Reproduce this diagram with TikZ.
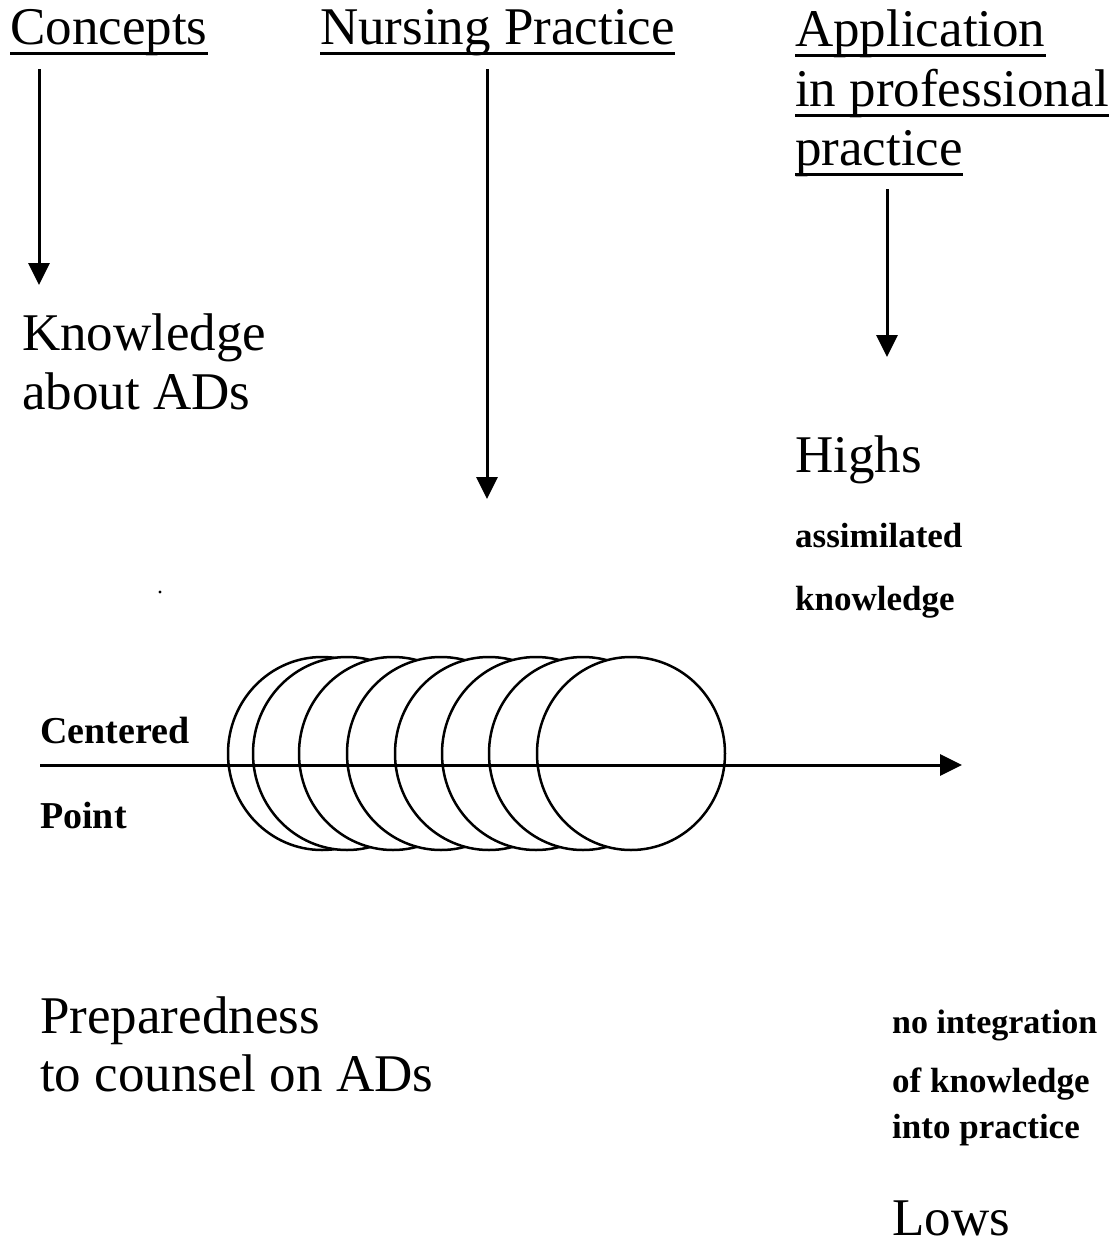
\documentclass[tikz,border=0pt]{standalone}
\usepackage{fontspec}
\setmainfont{Liberation Serif}
\usetikzlibrary{arrows.meta}
\begin{document}
\begin{tikzpicture}[x=1pt,y=-1pt,
  big/.style={anchor=base west,inner sep=0pt,font=\fontsize{53}{60}\selectfont},
  small/.style={anchor=base west,inner sep=0pt,font=\fontsize{35}{40}\selectfont\bfseries},
  smallL/.style={small,font=\fontsize{38}{40}\selectfont\bfseries},
  arr/.style={line width=3pt,-{Triangle[width=21pt,length=22pt]}},
  uline/.style={line width=3pt},
  ring/.style={line width=2.5pt,fill=white}]
\useasboundingbox[fill=white] (0,0) rectangle (1119,1245);

% headings
\node[big] (concepts) at (10,44) {Concepts};
\node[big] (nursing) at (320,44) {Nursing Practice};
\node[big] (app1) at (795,46) {Application};
\node[big] (app2) at (795,106) {in professional};
\node[big] (app3) at (795,165) {practice};
\foreach \n in {concepts,nursing,app1,app2,app3}
  \draw[uline] ([yshift=-9pt]\n.base west) -- ([yshift=-9pt]\n.base east);

% arrows from headings
\coordinate (a1s) at (39,69);  \coordinate (a1e) at (39,285);
\coordinate (a2s) at (487,69); \coordinate (a2e) at (487,499);
\coordinate (a3s) at (887,189); \coordinate (a3e) at (887,357);
\draw[arr] (a1s) -- (a1e);
\draw[arr] (a2s) -- (a2e);
\draw[arr] (a3s) -- (a3e);

% left texts
\node[big] (know1) at (22,350) {Knowledge};
\node[big] (know2) at (22,409) {about ADs};
\node[smallL] (cent) at (40,743) {Centered};
\node[smallL] (point) at (40,828) {Point};
\node[big] (prep1) at (40,1033) {Preparedness};
\node[big] (prep2) at (40,1091) {to counsel on ADs};

% right texts
\node[big] (highs) at (795,472) {Highs};
\node[small] (assim) at (795,547) {assimilated};
\node[small] (knowr) at (795,610) {knowledge};
\node[small,font=\fontsize{34}{40}\selectfont\bfseries] (noint) at (892,1033) {no integration};
\node[small] (ofkn) at (892,1092) {of knowledge};
\node[small] (intop) at (892,1138) {into practice};
\node[big] (lows) at (892,1235) {Lows};

% stray dot
\fill (160,592) circle (1.6);

% circles, each covering the right part of the one before
\foreach \cx in {322,347,393,441,489,536,583,631}
  \draw[ring] (\cx,753.5) ellipse [x radius=94, y radius=96.5];

% axis
\coordinate (axs) at (40,765);
\coordinate (axe) at (962,765);
\draw[arr] (axs) -- (axe);
\end{tikzpicture}
\end{document}
